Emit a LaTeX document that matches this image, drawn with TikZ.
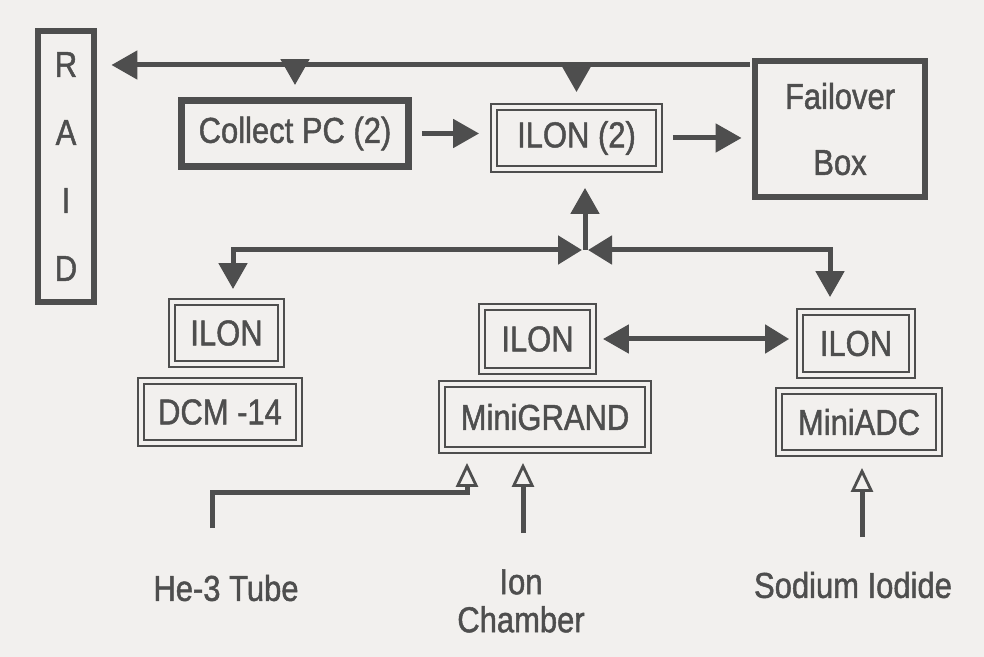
\documentclass[tikz,border=0pt]{standalone}
\usepackage{fontspec}
\setmainfont{Liberation Sans}[FakeStretch=0.86,FakeBold=1.3]
\usetikzlibrary{arrows.meta}
\definecolor{bg}{HTML}{F2F0EE}
\definecolor{ink}{HTML}{4E4E4E}
\begin{document}
\begin{tikzpicture}[x=0.5pt,y=-0.5pt,
  every node/.style={font=\fontsize{18}{22}\selectfont, text=ink},
  thickbox/.style={draw=ink, line width=3.4pt, inner sep=0pt},
  dblbox/.style={draw=ink, double=bg, line width=0.9pt, double distance=2.2pt, inner sep=0pt},
  conn/.style={draw=ink, line width=2.5pt},
  fa/.style={-{Triangle[length=13pt,width=14pt]}},
  fafa/.style={{Triangle[length=13pt,width=14pt]}-{Triangle[length=12pt,width=14pt]}},
  oa/.style={-{Triangle[open,length=12pt,width=11pt,line width=1.4pt]}},
  lbl/.style={inner sep=0pt, align=center}
]
\fill[bg] (0,0) rectangle (984,657);
\useasboundingbox (0,0) rectangle (984,657);

% nodes
\node[thickbox, minimum width=28pt, minimum height=135.5pt, align=center,
      font=\fontsize{18}{34}\selectfont] (raid) at (66,166.5) {R\\A\\I\\D};
\node[thickbox, minimum width=113.5pt, minimum height=33pt] (collect) at (295,133.5) {Collect PC (2)};
\node[dblbox, minimum width=82.5pt, minimum height=31pt] (ilon2) at (576.5,138) {ILON (2)};
\node[thickbox, minimum width=85pt, minimum height=68pt, align=center,
      font=\fontsize{18}{33}\selectfont] (failover) at (840,129) {Failover\\Box};

\node[dblbox, minimum width=54.5pt, minimum height=31pt] (ilonL) at (226.5,333) {ILON};
\node[dblbox, minimum width=79pt, minimum height=31pt] (dcm) at (220,412) {DCM -14};
\node[dblbox, minimum width=55.5pt, minimum height=32pt] (ilonM) at (537.5,339) {ILON};
\node[dblbox, minimum width=103pt, minimum height=33pt] (minigrand) at (545,417) {MiniGRAND};
\node[dblbox, minimum width=56pt, minimum height=31.5pt] (ilonR) at (856,343.5) {ILON};
\node[dblbox, minimum width=80pt, minimum height=31pt] (miniadc) at (859,422) {MiniADC};

\node[lbl] (he3) at (226,588) {He-3 Tube};
\node[lbl, font=\fontsize{18}{19}\selectfont] (ion) at (521,601) {Ion\\Chamber};
\node[lbl] (sodium) at (853,585) {Sodium Iodide};

% top bus
\coordinate (t) at (750,65);
\draw[conn, fa, shorten >=7pt] (t) -- (raid.east |- t);
\draw[conn, fa, shorten >=6pt] (collect.north |- t) -- (collect.north);
\draw[conn, fa, shorten >=7pt] (ilon2.north |- t) -- (ilon2.north);

% horizontal chain
\draw[conn, fa, shorten <=5pt, shorten >=7pt] (collect.east) -- (collect.east -| ilon2.west);
\draw[conn, fa, shorten <=6.5pt, shorten >=5pt] (ilon2.east) -- (ilon2.east -| failover.west);

% junction
\coordinate (J) at (585,250);
\coordinate (cL) at (233,250);
\coordinate (cR) at (830,250);
\draw[conn, fa, shorten >=9pt] (J) -- (J |- ilon2.south);
\draw[conn, fafa, shorten <=6pt, shorten >=1.5pt] (cL |- ilonL.north) -- (cL) -- (J);
\draw[conn, fafa, shorten <=7pt, shorten >=1.5pt] (cR |- ilonR.north) -- (cR) -- (J);

% ILON <-> ILON
\draw[conn, fafa, shorten <=4.5pt, shorten >=5pt] (ilonM.east) -- (ilonM.east -| ilonR.west);

% sensors
\coordinate (h0) at (212,528);
\coordinate (h1) at (467,492);
\draw[conn, oa, shorten >=6pt] (h0) |- (h1) -- (h1 |- minigrand.south);
\coordinate (i0) at (523,533);
\draw[conn, oa, shorten >=6pt] (i0) -- (i0 |- minigrand.south);
\coordinate (s0) at (862,537);
\draw[conn, oa, shorten >=7pt] (s0) -- (s0 |- miniadc.south);
\end{tikzpicture}
\end{document}
